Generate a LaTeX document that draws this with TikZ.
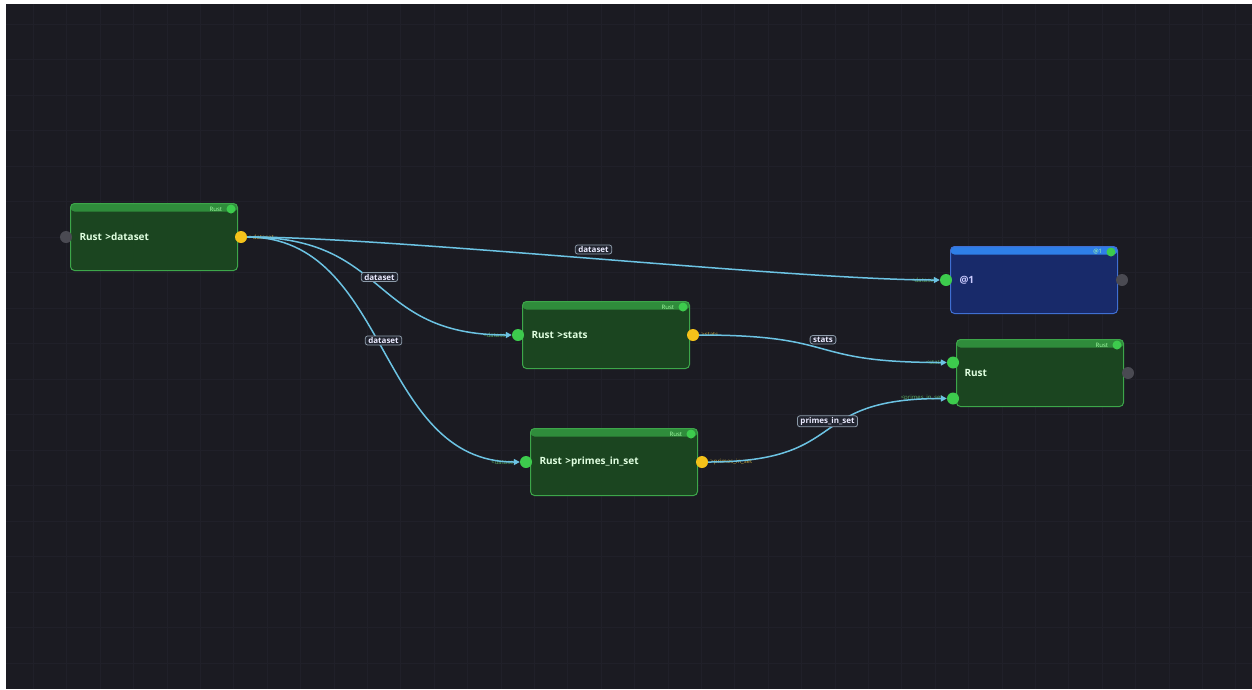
\documentclass[tikz,border=0pt]{standalone}
\usepackage{fontspec}
\setmainfont{Open Sans}
\usetikzlibrary{arrows.meta,positioning}

\definecolor{canvas}{HTML}{1B1B22}
\definecolor{gridline}{HTML}{202029}
\definecolor{boxfill}{HTML}{1B4520}
\definecolor{boxline}{HTML}{3DA64A}
\definecolor{boxhead}{HTML}{2F8C3B}
\definecolor{bluefill}{HTML}{182A6A}
\definecolor{blueline}{HTML}{3F6FD2}
\definecolor{bluehead}{HTML}{2E7FE8}
\definecolor{wirecol}{HTML}{6CC3E3}
\definecolor{portin}{HTML}{3DCB4D}
\definecolor{portout}{HTML}{F4C21A}
\definecolor{portoff}{HTML}{4A4A52}
\definecolor{tagline}{HTML}{8C9AA8}
\definecolor{tagfill}{HTML}{222530}

\tikzset{
  box/.style={draw=boxline, fill=boxfill, line width=1pt, rounded corners=4pt,
    anchor=north west, minimum width=167pt, minimum height=67pt,
    text width=149pt, inner xsep=9pt, inner ysep=0pt, align=left,
    font=\fontsize{10}{12}\selectfont\bfseries, text=white!88!green,
    path picture={\fill[boxhead] (path picture bounding box.north west)
      rectangle ([yshift=-8pt]path picture bounding box.north east);}},
  bluebox/.style={box, draw=blueline, fill=bluefill, text=white!80!blue,
    path picture={\fill[bluehead] (path picture bounding box.north west)
      rectangle ([yshift=-8pt]path picture bounding box.north east);}},
  port/.style={circle, inner sep=0pt, minimum size=12pt},
  dot/.style={circle, fill=portin, inner sep=0pt, minimum size=9pt},
  kind/.style={font=\fontsize{6}{7}\selectfont, text=white!65!green, inner sep=0pt},
  inlabel/.style={font=\fontsize{6}{7}\selectfont, text=portin!60!gray, inner sep=0pt, anchor=east},
  outlabel/.style={font=\fontsize{6}{7}\selectfont, text=portout!65!gray, inner sep=0pt, anchor=west},
  wire/.style={draw=wirecol, line width=1.5pt, -{Triangle[length=6pt,width=6pt]}},
  tag/.style={draw=tagline, fill=tagfill, line width=0.8pt, rounded corners=2.5pt,
    font=\fontsize{8}{9}\selectfont\bfseries, text=white!92!blue,
    inner xsep=3pt, inner ysep=1.5pt},
}

\begin{document}
\begin{tikzpicture}[x=1pt,y=-1pt]
  \useasboundingbox (0,0) rectangle (1252,689);
  \fill[white] (0,0) rectangle (1252,689);
  \fill[canvas] (6,4) rectangle (1252,689);
  \foreach \gx in {1,...,37}
    \draw[gridline, line width=0.8pt] ({33.4*\gx},4) -- ({33.4*\gx},689);
  \foreach \gy in {0,...,18}
    \draw[gridline, line width=0.8pt] (6,{24+35.5*\gy}) -- (1252,{24+35.5*\gy});

  % boxes
  \node[box] (ndataset) at (70,203) {Rust >dataset};
  \node[box] (nstats) at (522,301) {Rust >stats};
  \node[box] (nprimes) at (530,428) {Rust >primes\_in\_set};
  \node[bluebox] (nout) at (950,246) {@1};
  \node[box, inner xsep=8pt, text width=151pt] (nrust) at (956,339) {Rust};

  % header tags
  \foreach \b/\t in {ndataset/Rust, nstats/Rust, nprimes/Rust, nrust/Rust, nout/@1} {
    \node[dot] (\b-dot) at ([xshift=-7pt,yshift=-6pt]\b.north east) {};
    \node[kind, left=4pt of \b-dot] (\b-kind) {\t};
  }

  % ports
  \node[port, fill=portoff] (ndataset-in) at ([xshift=-4pt]ndataset.west) {};
  \node[port, fill=portout] (ndataset-out) at ([xshift=3pt]ndataset.east) {};
  \node[port, fill=portin] (nstats-in) at ([xshift=-4pt]nstats.west) {};
  \node[port, fill=portout] (nstats-out) at ([xshift=3pt]nstats.east) {};
  \node[port, fill=portin] (nprimes-in) at ([xshift=-4pt]nprimes.west) {};
  \node[port, fill=portout] (nprimes-out) at ([xshift=4pt]nprimes.east) {};
  \node[port, fill=portin] (nout-in) at ([xshift=-4pt]nout.west) {};
  \node[port, fill=portoff] (nout-off) at ([xshift=4pt]nout.east) {};
  \node[port, fill=portin] (nrust-in1) at ([xshift=-3pt,yshift=10.5pt]nrust.west) {};
  \node[port, fill=portin] (nrust-in2) at ([xshift=-3pt,yshift=-25.5pt]nrust.west) {};
  \node[port, fill=portoff] (nrust-off) at ([xshift=4pt]nrust.east) {};

  % port names
  \node[outlabel, right=2pt of ndataset-out] (ldataset-out) {>dataset};
  \node[outlabel, right=2pt of nstats-out] (lstats-out) {>stats};
  \node[outlabel, right=2pt of nprimes-out] (lprimes-out) {>primes\_in\_set};
  \node[inlabel, left=4pt of nstats-in] (lstats-in) {<dataset};
  \node[inlabel, left=4pt of nprimes-in] (lprimes-in) {<dataset};
  \node[inlabel, left=4pt of nout-in] (lout-in) {<dataset};
  \node[inlabel, left=4pt of nrust-in1] (lrust-in1) {<stats};
  \node[inlabel, left=4pt of nrust-in2] (lrust-in2) {<primes\_in\_set};

  % wires
  \draw[wire] (ndataset-out) .. controls +(150,0) and +(-150,0) .. (nout-in)
    node[tag, pos=0.5, yshift=9pt] (tout) {dataset};
  \draw[wire] (ndataset-out) .. controls +(150,0) and +(-150,0) .. (nstats-in)
    node[tag, pos=0.5, yshift=9pt] (tstats) {dataset};
  \draw[wire] (ndataset-out) .. controls +(150,0) and +(-150,0) .. (nprimes-in)
    node[tag, pos=0.5, yshift=9pt] (tprimes) {dataset};
  \draw[wire] (nstats-out) .. controls +(150,0) and +(-150,0) .. (nrust-in1)
    node[tag, pos=0.5, yshift=9pt] (trust1) {stats};
  \draw[wire] (nprimes-out) .. controls +(150,0) and +(-150,0) .. (nrust-in2)
    node[tag, pos=0.5, yshift=9pt] (trust2) {primes\_in\_set};
\end{tikzpicture}
\end{document}
